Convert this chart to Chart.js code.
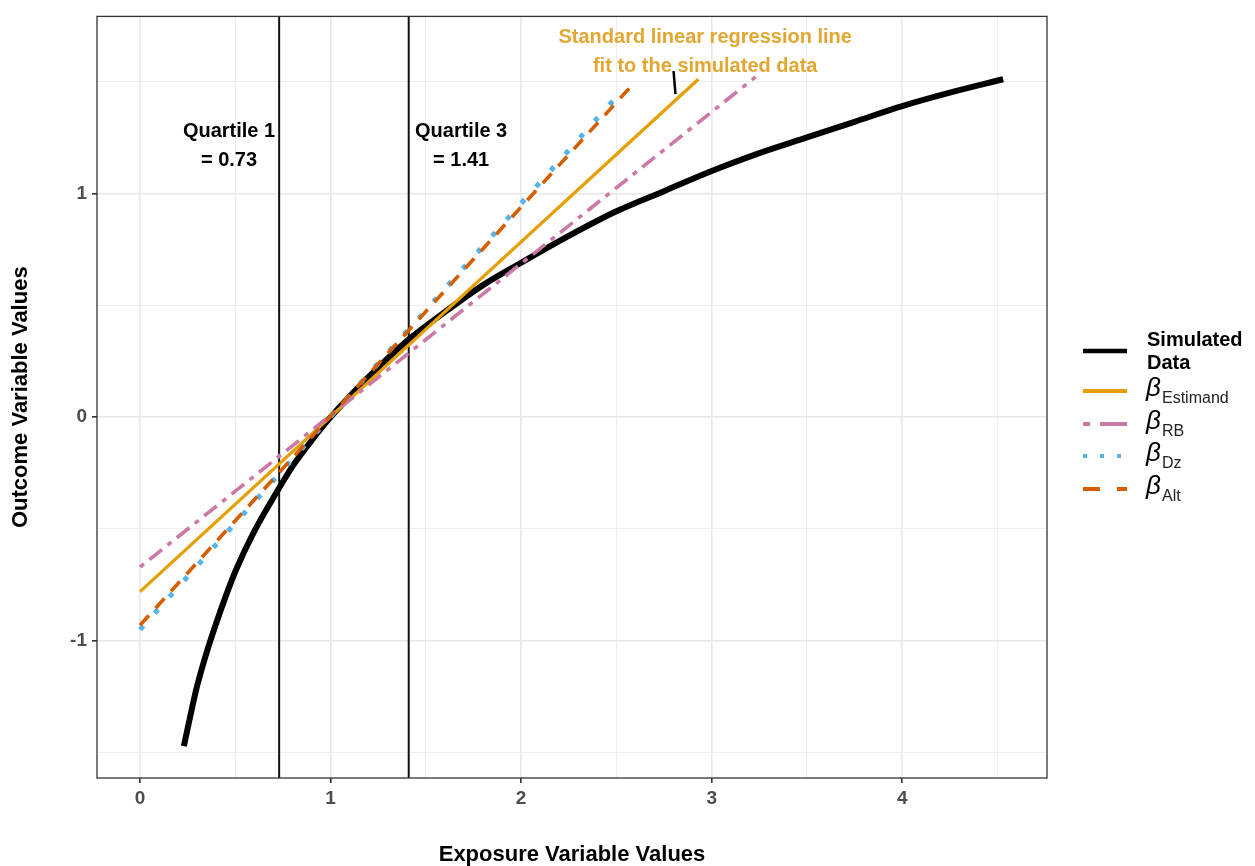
<!DOCTYPE html>
<html>
<head>
<meta charset="utf-8">
<script src="https://cdn.jsdelivr.net/npm/chart.js@4"></script>
<style>
  body { margin: 0; background: #fff; }
  #wrap { width: 1255px; height: 866px; }
</style>
</head>
<body>
<div id="wrap"><canvas id="chart" width="1255" height="866"></canvas></div>
<script>
// Simulated data curve
const simX = [0.23, 0.25, 0.3, 0.35, 0.4, 0.45, 0.5, 0.6, 0.7, 0.8, 0.9, 1.0, 1.2, 1.4, 1.6, 1.8, 2.0, 2.25, 2.5, 2.75, 3.0, 3.25, 3.5, 3.75, 4.0, 4.25, 4.53];
const simY = [-1.47, -1.39, -1.20, -1.05, -0.92, -0.80, -0.69, -0.51, -0.36, -0.22, -0.105, 0, 0.18, 0.34, 0.47, 0.59, 0.69, 0.81, 0.92, 1.01, 1.10, 1.18, 1.25, 1.32, 1.39, 1.45, 1.51];

// Fitted lines: start and end points
const estimandX = [0, 2.93];
const estimandY = [-0.78, 1.51];
const rbX = [0, 3.23];
const rbY = [-0.67, 1.52];
const dzX = [0, 2.52];
const dzY = [-0.95, 1.45];
const altX = [0, 2.6];
const altY = [-0.93, 1.50];

// Quartiles
const quartileVals = [0.73, 1.41];
const quartileLabels = [['Quartile 1', '= 0.73'], ['Quartile 3', '= 1.41']];

// Pointer to the regression note
const pointerX = [2.80, 2.81];
const pointerY = [1.547, 1.444];

// Axis breaks (major labelled, halves are minor grid)
const xTicks = [0, 1, 2, 3, 4];
const xGrid = [0, 0.5, 1, 1.5, 2, 2.5, 3, 3.5, 4, 4.5];
const yTicks = [-1, 0, 1];
const yGrid = [-1.5, -1, -0.5, 0, 0.5, 1, 1.5];

const FONT = 'Liberation Sans, Arial, sans-serif';

function pts(xs, ys) {
    return xs.map((x, i) => ({ x: x, y: ys[i] }));
}

const series = [
    { key: 'sim', color: '#000000', width: 6, dash: [] },
    { key: 'est', color: '#E69F00', width: 3.2, dash: [], sub: 'Estimand' },
    { key: 'rb', color: '#CC79A7', width: 3.6, dash: [5, 7, 16, 7], sub: 'RB' },
    { key: 'dz', color: '#56B4E9', width: 5, dash: [5, 17], sub: 'Dz' },
    { key: 'alt', color: '#D55E00', width: 3.6, dash: [13, 10], sub: 'Alt' }
];

// Panel border + annotations
const annotations = {
    id: 'annotations',
    afterDatasetsDraw(chart) {
        const { ctx, chartArea: a, scales: { x, y } } = chart;
        ctx.save();
        ctx.strokeStyle = '#333333';
        ctx.lineWidth = 1.3;
        ctx.strokeRect(a.left, a.top, a.right - a.left, a.bottom - a.top);

        ctx.textAlign = 'center';
        ctx.textBaseline = 'middle';
        ctx.fillStyle = '#000';
        ctx.font = 'bold 20px ' + FONT;
        const qx = [0.467, 1.685];
        quartileLabels.forEach((lines, i) => {
            ctx.fillText(lines[0], x.getPixelForValue(qx[i]), y.getPixelForValue(1.276));
            ctx.fillText(lines[1], x.getPixelForValue(qx[i]), y.getPixelForValue(1.147));
        });

        ctx.fillStyle = '#E2A631';
        ctx.fillText('Standard linear regression line', x.getPixelForValue(2.966), y.getPixelForValue(1.698));
        ctx.fillText('fit to the simulated data', x.getPixelForValue(2.966), y.getPixelForValue(1.569));
        ctx.restore();
    }
};

// Custom legend with subscripts
const legendPlugin = {
    id: 'customLegend',
    afterDraw(chart) {
        const ctx = chart.ctx;
        const x0 = 1083, x1 = 1127, tx = 1147;
        const rows = [351, 391, 424, 456, 489];
        const legendDash = { sim: [], est: [], rb: [7, 10, 22, 0], dz: [4, 13], alt: [17, 17] };
        ctx.save();
        series.forEach((s, i) => {
            const yy = rows[i];
            ctx.beginPath();
            ctx.strokeStyle = s.color;
            ctx.lineWidth = i === 0 ? 4.5 : 4;
            ctx.setLineDash(legendDash[s.key]);
            ctx.moveTo(x0, yy);
            ctx.lineTo(x1, yy);
            ctx.stroke();
            ctx.setLineDash([]);
            ctx.fillStyle = '#000';
            ctx.textAlign = 'left';
            ctx.textBaseline = 'middle';
            if (i === 0) {
                ctx.font = 'bold 20px ' + FONT;
                ctx.fillText('Simulated', tx, 340);
                ctx.fillText('Data', tx, 363);
            } else {
                ctx.font = 'italic 26px ' + FONT;
                ctx.fillText('\u03B2', tx - 1, yy - 2);
                ctx.font = '16px ' + FONT;
                ctx.fillStyle = '#222';
                ctx.fillText(s.sub, tx + 15, yy + 8);
            }
        });
        ctx.restore();
    }
};

const datasets = [];
quartileVals.forEach(q => {
    datasets.push({
        data: [{ x: q, y: -3 }, { x: q, y: 3 }],
        borderColor: '#111', borderWidth: 2, pointRadius: 0, order: 10
    });
});
datasets.push({
    data: pts(simX, simY), borderColor: '#000', borderWidth: series[0].width,
    pointRadius: 0, cubicInterpolationMode: 'monotone', order: 6, borderCapStyle: 'butt'
});
datasets.push({
    data: pts(estimandX, estimandY), borderColor: series[1].color, borderWidth: series[1].width,
    pointRadius: 0, order: 5
});
datasets.push({
    data: pts(rbX, rbY), borderColor: series[2].color, borderWidth: series[2].width,
    borderDash: series[2].dash, pointRadius: 0, order: 4
});
datasets.push({
    data: pts(dzX, dzY), borderColor: series[3].color, borderWidth: series[3].width,
    borderDash: series[3].dash, pointRadius: 0, order: 3
});
datasets.push({
    data: pts(altX, altY), borderColor: series[4].color, borderWidth: series[4].width,
    borderDash: series[4].dash, pointRadius: 0, order: 2
});
datasets.push({
    data: pts(pointerX, pointerY), borderColor: '#000', borderWidth: 2.5, pointRadius: 0, order: 1
});

function isMajor(v) {
    return Math.abs(v - Math.round(v)) < 1e-6;
}
const gridOpts = {
    color: c => isMajor(c.tick.value) ? '#E8E8E8' : '#EEEEEE',
    lineWidth: c => isMajor(c.tick.value) ? 1.6 : 1.1,
    tickColor: c => isMajor(c.tick.value) ? '#333' : 'rgba(0,0,0,0)',
    tickLength: 5
};

new Chart(document.getElementById('chart'), {
    type: 'line',
    data: { datasets: datasets },
    plugins: [annotations, legendPlugin],
    options: {
        responsive: false,
        animation: false,
        layout: { padding: { top: 12, right: 208, left: 0, bottom: 0 } },
        plugins: { legend: { display: false }, tooltip: { enabled: false } },
        scales: {
            x: {
                type: 'linear', min: -0.226, max: 4.76,
                ticks: {
                    autoSkip: false, maxRotation: 0, padding: 4,
                    color: '#4D4D4D', font: { family: FONT, size: 19, weight: 'bold' },
                    callback: v => isMajor(v) && xTicks.includes(Math.round(v)) ? String(Math.round(v)) : ''
                },
                grid: gridOpts,
                border: { display: false },
                title: {
                    display: true, text: 'Exposure Variable Values', color: '#000',
                    font: { family: FONT, size: 22, weight: 'bold', lineHeight: 1 },
                    padding: { top: 0, bottom: 0 }
                },
                afterBuildTicks: s => { s.ticks = xGrid.map(v => ({ value: v })); },
                afterFit: s => { s.height = 88; }
            },
            y: {
                type: 'linear', min: -1.613, max: 1.791,
                ticks: {
                    autoSkip: false, padding: 5,
                    color: '#4D4D4D', font: { family: FONT, size: 19, weight: 'bold' },
                    callback: v => isMajor(v) && yTicks.includes(Math.round(v)) ? String(Math.round(v)) : ''
                },
                grid: gridOpts,
                border: { display: false },
                title: {
                    display: true, text: 'Outcome Variable Values', color: '#000',
                    font: { family: FONT, size: 22, weight: 'bold', lineHeight: 1.2 },
                    padding: { top: 8, bottom: 0 }
                },
                afterBuildTicks: s => { s.ticks = yGrid.map(v => ({ value: v })); },
                afterFit: s => { s.width = 97; }
            }
        }
    }
});
</script>
</body>
</html>
